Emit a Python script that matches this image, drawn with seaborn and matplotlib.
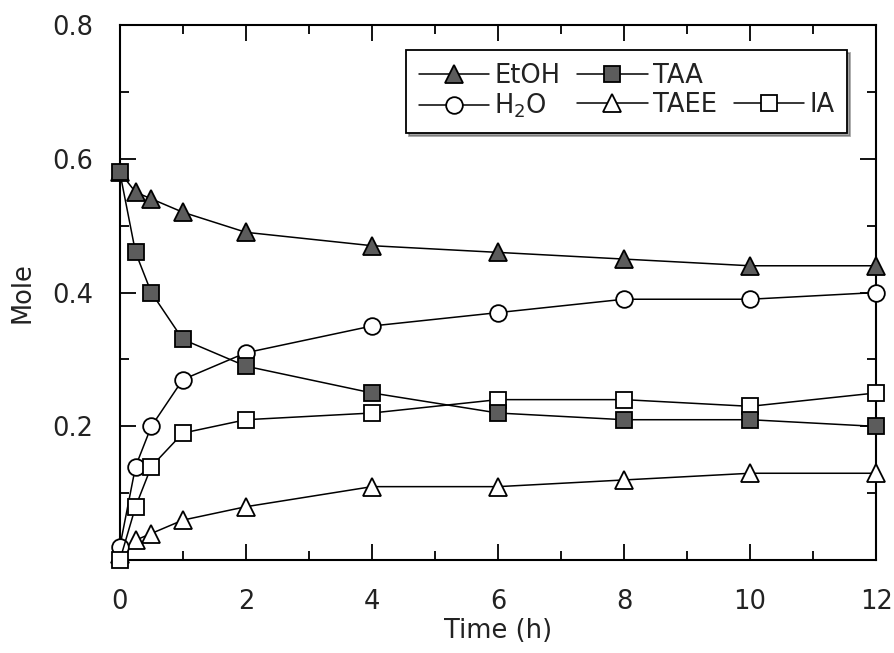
import matplotlib
matplotlib.use("Agg")
import matplotlib.pyplot as plt
from matplotlib.lines import Line2D
from matplotlib.ticker import MultipleLocator
import numpy as np
import pandas as pd
import seaborn as sns

# Reaction time (h)
time_h = [0, 0.25, 0.5, 1, 2, 4, 6, 8, 10, 12]

# Moles of each species
etoh = [0.58, 0.55, 0.54, 0.52, 0.49, 0.47, 0.46, 0.45, 0.44, 0.44]
taa = [0.58, 0.46, 0.40, 0.33, 0.29, 0.25, 0.22, 0.21, 0.21, 0.20]
h2o = [0.02, 0.14, 0.20, 0.27, 0.31, 0.35, 0.37, 0.39, 0.39, 0.40]
taee = [0.01, 0.03, 0.04, 0.06, 0.08, 0.11, 0.11, 0.12, 0.13, 0.13]
ia = [0.00, 0.08, 0.14, 0.19, 0.21, 0.22, 0.24, 0.24, 0.23, 0.25]

species = ["EtOH", "TAA", "H$_2$O", "TAEE", "IA"]
values = [etoh, taa, h2o, taee, ia]

df = pd.DataFrame({
    "Time": np.tile(time_h, len(species)),
    "Mole": np.concatenate(values),
    "Species": np.repeat(species, len(time_h)),
})

sns.set_theme(style="ticks")
plt.rcParams["font.family"] = ["DejaVu Sans"]

fig = plt.figure(figsize=(8.94, 6.53), dpi=100)
ax = fig.add_axes([0.134, 0.142, 0.846, 0.820])

dark = "#5c5c5c"
styles = {
    "EtOH": dict(marker="^", markersize=13.5, markerfacecolor=dark),
    "TAA": dict(marker="s", markersize=11, markerfacecolor=dark),
    "H$_2$O": dict(marker="o", markersize=12, markerfacecolor="white"),
    "TAEE": dict(marker="^", markersize=13.5, markerfacecolor="white"),
    "IA": dict(marker="s", markersize=11, markerfacecolor="white"),
}

# open-marker series first, then the filled ones; TAA last so its square
# sits on top at the shared starting point
for name in ["TAEE", "H$_2$O", "IA", "EtOH", "TAA"]:
    sub = df[df["Species"] == name]
    sns.lineplot(data=sub, x="Time", y="Mole", ax=ax, color="black",
                 linewidth=1.1, markeredgecolor="black", markeredgewidth=1.3,
                 errorbar=None, label=name, clip_on=False, zorder=3,
                 **styles[name])

ax.set_xlim(0, 12)
ax.set_ylim(0, 0.8)
ax.xaxis.set_major_locator(MultipleLocator(2))
ax.xaxis.set_minor_locator(MultipleLocator(1))
ax.set_yticks([0.2, 0.4, 0.6, 0.8])
ax.yaxis.set_minor_locator(MultipleLocator(0.1))
ax.set_yticklabels(["0.2", "0.4", "0.6", "0.8"])

ax.tick_params(which="both", direction="in", top=True, right=True,
               color="black", width=1.3, labelsize=18.5, labelcolor="#222222")
ax.tick_params(which="major", length=11.5)
ax.tick_params(which="minor", length=6.5)
ax.tick_params(axis="y", which="major", pad=19)
ax.tick_params(axis="x", which="major", pad=20.5)

for sp in ax.spines.values():
    sp.set_linewidth(1.5)
    sp.set_color("black")

ax.set_xlabel("Time (h)", fontsize=18.5, labelpad=2, color="#222222")
ax.set_ylabel("Mole", fontsize=18.5, labelpad=12, color="#222222")

handles, labels = ax.get_legend_handles_labels()
hmap = dict(zip(labels, handles))
blank = Line2D([], [], linestyle="none", marker="none")
order_h = [hmap["EtOH"], hmap["H$_2$O"], hmap["TAA"], hmap["TAEE"], blank, hmap["IA"]]
order_l = ["EtOH", "H$_2$O", "TAA", "TAEE", "", "IA"]
leg = ax.legend(order_h, order_l, ncol=3, loc="upper right",
                bbox_to_anchor=(0.962, 0.953), borderaxespad=0,
                fontsize=18.5, frameon=True, fancybox=False, shadow=True,
                handlelength=2.75, handletextpad=0.2, columnspacing=0.65,
                labelspacing=0.12, borderpad=0.5)
leg.get_frame().set_edgecolor("black")
leg.get_frame().set_linewidth(1.3)
for t in leg.get_texts():
    t.set_color("#222222")

fig.savefig("out.png", dpi=100, facecolor="white")
